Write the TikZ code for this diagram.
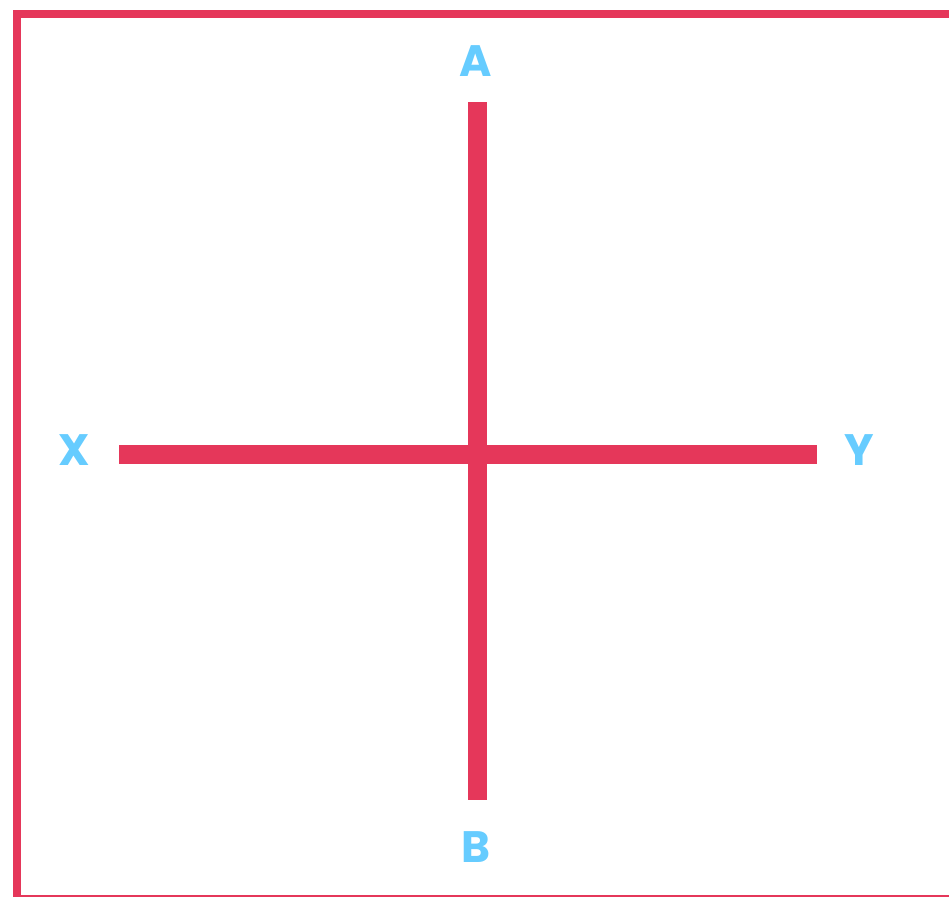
\documentclass[tikz,border=0pt]{standalone}
\usepackage{fontspec}
\setsansfont{Poppins}
\usetikzlibrary{positioning}
\definecolor{barred}{HTML}{E5375A}
\definecolor{labelblue}{HTML}{66CCFF}
\tikzset{
  frame/.style={draw=barred, line width=8pt, line join=miter},
  bar/.style={draw=barred, line width=19pt, line cap=butt},
  axislabel/.style={font=\sffamily\bfseries\fontsize{44}{44}\selectfont, text=labelblue, anchor=base, inner sep=0pt}
}
\begin{document}
\begin{tikzpicture}[x=1pt,y=-1pt]
\useasboundingbox (0,0) rectangle (949,897);
% outer frame, open on the right
\draw[frame] (949,14) -- (17,14) -- (17,897);
\draw[draw=barred, line width=2pt] (17,896) -- (949,896);
% axis ends
\coordinate (aEnd) at (477.5,102);
\coordinate (bEnd) at (477.5,800);
\coordinate (xEnd) at (119,454);
\coordinate (yEnd) at (817,454);
% labels
\node[axislabel] (A) at (476,76) {A};
\node[axislabel] (B) at (476,862) {B};
\node[axislabel] (X) at (74,465) {X};
\node[axislabel] (Y) at (859,465) {Y};
% the cross
\draw[bar] (xEnd) -- (yEnd);
\draw[bar] (aEnd) -- (bEnd);
\end{tikzpicture}
\end{document}
